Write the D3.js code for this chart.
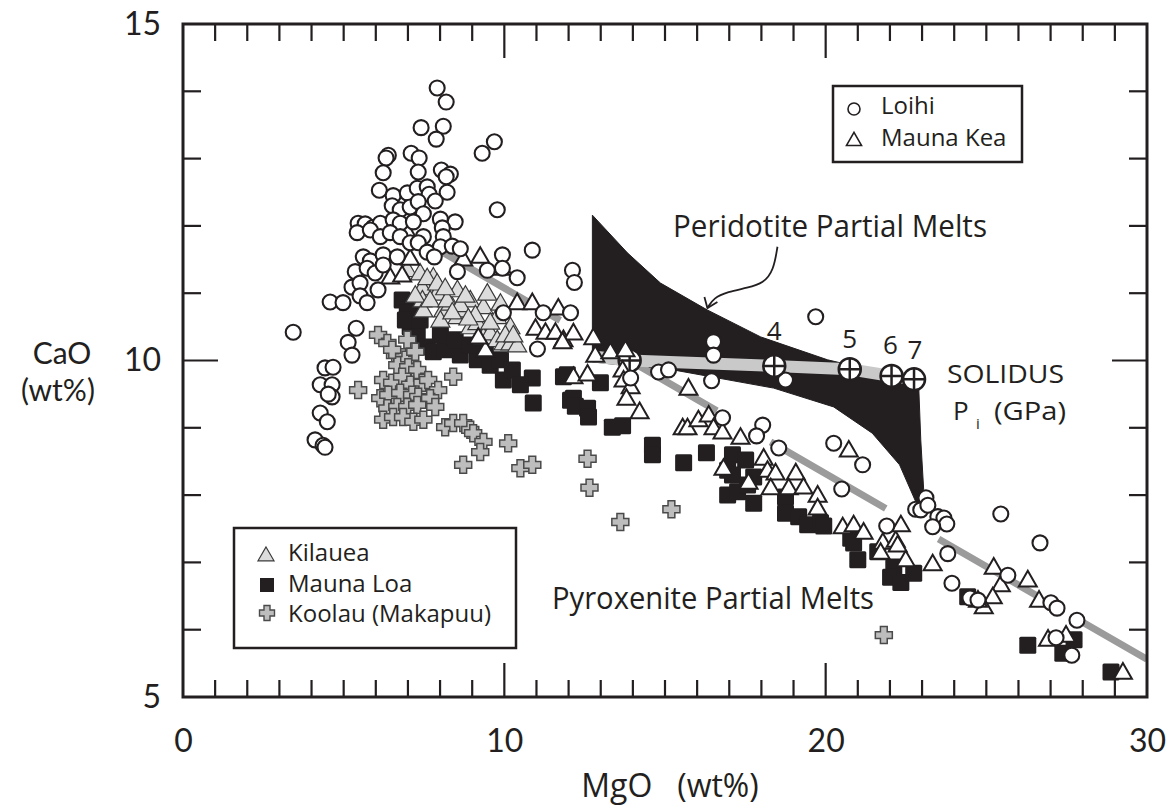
<!DOCTYPE html>
<html>
<head>
<meta charset="utf-8">
<script src="https://cdn.jsdelivr.net/npm/d3@7"></script>
<style>
  html, body { margin: 0; padding: 0; background: #fff; }
  svg { display: block; }
  text { fill: #231f20; }
</style>
</head>
<body>
<div id="app"></div>
<script>
// MgO / CaO (wt%)
const loihi = [
  [7.91,14.05],[8.19,13.84],[7.41,13.46],[8.10,13.48],[7.88,13.29],[9.69,13.25],[9.31,13.08],[6.39,13.05],
  [6.32,13.01],[7.10,13.08],[7.35,13.01],[6.23,12.79],[7.32,12.80],[8.04,12.83],[8.32,12.77],[8.19,12.73],
  [6.11,12.53],[6.54,12.45],[6.98,12.49],[7.29,12.56],[7.60,12.58],[8.22,12.50],[7.66,12.47],[7.85,12.37],
  [6.51,12.30],[6.76,12.24],[7.07,12.28],[7.32,12.36],[9.78,12.24],[7.48,12.18],[5.45,12.04],[5.67,12.03],
  [5.92,11.98],[6.14,12.04],[6.54,12.09],[6.76,12.04],[7.17,12.06],[8.01,12.10],[8.47,12.06],[5.42,11.90],
  [5.83,11.94],[6.14,11.84],[6.45,11.90],[6.76,11.84],[7.48,11.84],[8.07,11.97],[8.10,11.84],[7.07,11.75],
  [7.32,11.75],[8.01,11.69],[8.38,11.70],[8.63,11.66],[5.61,11.54],[5.83,11.48],[6.23,11.57],[6.67,11.54],
  [7.60,11.61],[7.82,11.54],[5.36,11.32],[5.73,11.37],[5.98,11.30],[6.23,11.42],[8.54,11.32],[9.94,11.57],
  [9.47,11.34],[9.94,11.37],[10.40,11.23],[10.87,11.64],[12.12,11.34],[12.18,11.16],[3.43,10.42],[4.58,10.87],
  [4.98,10.86],[5.26,11.09],[5.51,11.15],[5.51,10.96],[5.73,10.86],[6.07,11.05],[5.39,10.48],[5.14,10.27],
  [5.26,10.08],[4.42,9.89],[4.67,9.90],[4.27,9.64],[4.64,9.64],[4.64,9.46],[4.52,9.50],[4.27,9.22],
  [4.49,9.09],[4.11,8.82],[4.36,8.74],[4.42,8.71],[9.97,10.71],[11.03,10.17],[11.21,10.71],[12.06,10.71],
  [16.51,10.28],[16.51,10.08],[16.45,9.70],[19.69,10.65],[14.80,9.83],[15.11,9.86],[13.93,9.74],[18.75,9.71],
  [16.79,9.15],[18.04,9.04],[17.85,8.88],[18.54,8.70],[20.25,8.77],[21.15,8.45],[20.50,8.09],[23.12,7.96],
  [22.80,7.79],[22.96,7.78],[23.18,7.85],[23.49,7.68],[23.68,7.66],[23.77,7.57],[23.33,7.53],[25.45,7.72],
  [26.67,7.29],[23.80,7.13],[23.93,6.69],[25.67,6.81],[24.49,6.47],[24.74,6.44],[27.01,6.40],[27.20,6.32],
  [27.82,6.14],[27.17,5.88],[27.66,5.62],[21.90,7.54]
];

const maunaKea = [
  [6.45,11.24],[6.82,11.27],[6.95,11.94],[7.07,11.52],[9.94,11.37],[8.72,11.51],[9.25,11.55],[10.40,10.86],
  [10.87,10.86],[11.68,10.78],[10.97,10.48],[11.28,10.42],[11.59,10.42],[11.84,10.31],[9.41,10.16],[9.19,10.35],
  [12.15,10.41],[12.77,10.34],[11.81,10.28],[12.83,10.08],[13.30,10.13],[13.77,10.16],[12.15,9.76],[12.59,9.80],
  [13.68,9.86],[13.71,9.71],[13.93,9.61],[13.80,9.44],[14.21,9.24],[15.73,9.59],[15.55,9.00],[15.70,9.00],
  [16.04,9.12],[16.36,9.19],[16.51,9.00],[16.79,8.94],[17.35,8.86],[16.82,8.40],[17.60,8.19],[18.07,8.55],
  [18.19,8.37],[18.44,8.33],[19.07,8.33],[18.29,8.11],[18.85,8.11],[19.31,8.12],[19.75,8.00],[19.75,7.81],
  [20.53,7.53],[20.87,7.56],[21.18,7.45],[20.72,8.67],[21.78,7.30],[22.18,7.33],[22.34,7.56],[22.24,7.26],
  [21.71,7.15],[22.49,7.04],[23.33,6.98],[25.23,6.93],[25.45,6.67],[25.20,6.49],[24.92,6.34],[24.74,6.44],
  [26.29,6.74],[26.64,6.44],[26.92,5.86],[27.48,5.92],[29.25,5.37]
];

const kilauea = [
  [6.98,11.35],[7.38,11.30],[7.79,11.24],[7.54,11.09],[7.91,11.00],[7.45,11.08],[7.45,10.90],[7.60,11.23],
  [7.91,11.15],[8.10,10.75],[8.32,10.85],[8.54,10.65],[8.72,10.75],[8.94,10.50],[9.16,10.56],[9.35,10.35],
  [9.56,10.41],[9.78,10.31],[9.97,10.26],[10.19,10.26],[10.40,10.23],[8.54,11.05],[8.94,10.90],[9.35,10.80],
  [9.78,10.65],[10.19,10.50],[7.48,10.75],[8.01,10.60],[9.47,11.00],[9.88,10.85],[7.23,10.97],[7.69,10.90],
  [8.22,10.90],[8.63,10.83],[9.10,10.68],[9.56,10.57],[10.03,10.38],[8.16,11.08],[8.79,10.97],[10.28,10.38],
  [8.38,10.72],[8.88,10.63]
];

const maunaLoa = [
  [6.82,10.90],[7.17,10.79],[6.98,10.71],[7.07,10.50],[7.29,10.38],[7.60,10.20],[7.79,10.13],[8.16,10.16],
  [8.63,10.08],[9.16,10.01],[9.56,9.93],[9.97,9.71],[10.90,9.37],[10.87,9.74],[11.84,9.76],[12.06,9.41],
  [6.92,10.60],[7.38,10.60],[8.01,10.38],[8.47,10.31],[8.94,10.23],[9.41,10.16],[9.88,10.01],[10.25,9.86],
  [10.50,9.64],[11.96,9.79],[12.99,9.67],[12.15,9.44],[12.21,9.32],[12.59,9.29],[12.62,9.16],[13.36,9.01],
  [13.68,9.03],[14.61,8.74],[14.61,8.60],[15.58,8.48],[16.29,8.63],[17.10,8.60],[17.51,8.52],[16.95,8.37],
  [17.10,8.30],[16.95,8.00],[17.26,8.05],[17.76,7.88],[17.57,8.15],[17.76,8.27],[18.75,7.97],[18.75,7.73],
  [19.16,7.68],[19.44,7.56],[19.84,7.59],[20.78,7.36],[19.94,7.54],[20.87,7.29],[21.00,7.04],[21.62,7.16],
  [22.12,6.93],[22.02,6.78],[22.34,6.70],[22.74,6.84],[24.42,6.49],[26.29,5.77],[27.38,5.65],[27.73,5.85],
  [28.88,5.37]
];

const koolau = [
  [6.07,10.38],[6.36,10.26],[6.98,10.31],[6.60,10.08],[6.82,10.05],[6.92,10.01],[6.67,9.93],[7.01,9.90],
  [7.29,9.86],[6.23,9.71],[6.51,9.67],[6.82,9.76],[7.07,9.64],[7.45,9.67],[7.63,9.71],[5.45,9.56],
  [6.14,9.44],[6.39,9.49],[6.76,9.52],[7.13,9.49],[7.32,9.46],[7.94,9.56],[7.69,9.44],[6.36,9.29],
  [6.67,9.31],[6.98,9.31],[7.29,9.34],[7.85,9.31],[6.23,9.12],[6.54,9.16],[6.85,9.16],[7.17,9.09],
  [7.48,9.12],[8.41,9.76],[8.16,9.01],[8.41,9.07],[8.72,9.07],[8.94,8.97],[9.03,8.92],[9.35,8.79],
  [9.25,8.64],[10.12,8.77],[8.72,8.45],[10.50,8.40],[10.87,8.45],[12.59,8.54],[12.65,8.11],[13.61,7.60],
  [15.20,7.79],[21.81,5.92],[6.51,10.16],[7.23,10.13]
];

// peridotite partial melt field (outline, MgO/CaO)
const peridotiteField = [
  [12.74,12.16],[13.83,11.60],[14.86,11.15],[16.32,10.75],[17.98,10.35],[20.06,10.01],[21.40,9.86],[22.77,9.77],
  [22.90,9.56],[22.96,8.82],[23.05,8.08],[22.85,7.85],[22.30,8.45],[21.45,8.92],[20.25,9.31],[18.38,9.59],
  [15.26,9.86],[14.24,9.90],[12.74,9.98]
];

// solidus: pressure (GPa), MgO, CaO
const solidusP = ['3', '4', '5', '6', '7'];
const solidusMgO = [13.9, 18.4, 20.75, 22.05, 22.75];
const solidusCaO = [10.0, 9.92, 9.87, 9.77, 9.72];
const solidusStart = [12.75, 10.06];

// pyroxenite trend line ends
const pyroxTrend = [[8.1, 11.6], [30.0, 5.56]];

// arrow from label to field
const arrowPath = [[18.50,11.69],[18.38,11.34],[18.07,11.15],[17.57,11.08],[16.95,11.02],[16.51,10.93],[16.32,10.78]];

const xTicks = d3.range(0, 31, 1);
const xLabels = [0, 10, 20, 30];
const yTicks = d3.range(5, 16, 1);
const yLabels = [5, 10, 15];

const width = 1168, height = 809;
const ink = '#231f20';

const x = d3.scaleLinear().domain([0, 30]).range([183, 1147]);
const y = d3.scaleLinear().domain([5, 15]).range([697, 24]);

const svg = d3.create('svg').attr('width', width).attr('height', height)
  .attr('viewBox', [0, 0, width, height]);
svg.append('rect').attr('width', width).attr('height', height).attr('fill', '#fff');

const plot = svg.append('g');
plot.append('clipPath').attr('id', 'clip')
  .append('rect').attr('x', x(0)).attr('y', y(15)).attr('width', x(30) - x(0)).attr('height', y(5) - y(15));

const line = d3.line().x(d => x(d[0])).y(d => y(d[1]));

// peridotite field
plot.append('path').datum(peridotiteField)
  .attr('d', d => line(d) + 'Z')
  .attr('fill', ink).attr('stroke', ink).attr('stroke-width', 1);

// dashed pyroxenite trend
plot.append('path').datum(pyroxTrend)
  .attr('d', line)
  .attr('clip-path', 'url(#clip)')
  .attr('stroke', '#9b9b9b').attr('stroke-width', 7).attr('fill', 'none')
  .attr('stroke-dasharray', '135,90,91,62,133,61,118,46,300');

// solidus band
const solidus = solidusMgO.map((m, i) => [m, solidusCaO[i]]);
plot.append('path').datum([solidusStart].concat(solidus))
  .attr('d', line)
  .attr('stroke', '#c9c9c9').attr('stroke-width', 12).attr('fill', 'none');

// symbols
const triPath = (s) => {
  const h = s * Math.sqrt(3) / 2;
  return `M0,${-h * 0.58}L${s / 2},${h * 0.42}L${-s / 2},${h * 0.42}Z`;
};
const plusPath = (a, b) =>
  `M${-b},${-a}H${b}V${-b}H${a}V${b}H${b}V${a}H${-b}V${b}H${-a}V${-b}H${-b}Z`;

function solidusMarker(g, i) {
  const m = g.append('g').attr('transform', `translate(${x(solidusMgO[i])},${y(solidusCaO[i])})`);
  m.append('circle').attr('r', 11).attr('fill', '#fff').attr('stroke', ink).attr('stroke-width', 2.5);
  m.append('path').attr('d', 'M-11,0H11M0,-11V11').attr('stroke', ink).attr('stroke-width', 2.5);
}

// first solidus marker sits under the data
solidusMarker(plot, 0);

plot.append('g').selectAll('rect').data(maunaLoa).join('rect')
  .attr('x', d => x(d[0]) - 8.5).attr('y', d => y(d[1]) - 8.5)
  .attr('width', 17).attr('height', 17).attr('rx', 1.5)
  .attr('fill', ink);

plot.append('g').selectAll('path').data(kilauea).join('path')
  .attr('transform', d => `translate(${x(d[0])},${y(d[1])})`)
  .attr('d', triPath(19))
  .attr('fill', '#dcdcdc').attr('stroke', '#3a3a3a').attr('stroke-width', 1.2);

plot.append('g').selectAll('path').data(koolau).join('path')
  .attr('transform', d => `translate(${x(d[0])},${y(d[1])})`)
  .attr('d', plusPath(8.5, 3.4))
  .attr('fill', '#bdbdbd').attr('stroke', '#4a4a4a').attr('stroke-width', 1.5);

plot.append('g').selectAll('path').data(maunaKea).join('path')
  .attr('transform', d => `translate(${x(d[0])},${y(d[1])})`)
  .attr('d', triPath(18))
  .attr('fill', '#fff').attr('stroke', ink).attr('stroke-width', 2);

plot.append('g').selectAll('circle').data(loihi).join('circle')
  .attr('cx', d => x(d[0])).attr('cy', d => y(d[1])).attr('r', 7.5)
  .attr('fill', '#fff').attr('stroke', ink).attr('stroke-width', 2.1);

for (let i = 1; i < solidusP.length; i++) solidusMarker(plot, i);

// frame
svg.append('rect').attr('x', x(0)).attr('y', y(15))
  .attr('width', x(30) - x(0)).attr('height', y(5) - y(15))
  .attr('fill', 'none').attr('stroke', ink).attr('stroke-width', 3);

// ticks (inward)
const tickG = svg.append('g').attr('stroke', ink).attr('stroke-width', 2.2);
const isMajorX = v => v === 10 || v === 20;
const isMajorY = v => v === 10;
xTicks.filter(v => v > 0 && v < 30).forEach(v => {
  const len = isMajorX(v) ? 34 : 17;
  tickG.append('line').attr('x1', x(v)).attr('x2', x(v)).attr('y1', y(5)).attr('y2', y(5) - len);
  tickG.append('line').attr('x1', x(v)).attr('x2', x(v)).attr('y1', y(15)).attr('y2', y(15) + len);
});
yTicks.filter(v => v > 5 && v < 15).forEach(v => {
  const len = isMajorY(v) ? 35 : 18;
  tickG.append('line').attr('x1', x(0)).attr('x2', x(0) + len).attr('y1', y(v)).attr('y2', y(v));
  tickG.append('line').attr('x1', x(30)).attr('x2', x(30) - len).attr('y1', y(v)).attr('y2', y(v));
});

// tick labels
svg.append('g').call(d3.axisBottom(x).tickValues(xLabels).tickSize(0).tickPadding(32))
  .attr('transform', `translate(0,${y(5)})`)
  .call(g => g.select('.domain').remove())
  .call(g => g.selectAll('text').attr('fill', ink)
    .style('font', '32px Lato, "Open Sans", sans-serif'));

svg.append('g').call(d3.axisLeft(y).tickValues(yLabels).tickSize(0).tickPadding(22))
  .attr('transform', `translate(${x(0)},0)`)
  .call(g => g.select('.domain').remove())
  .call(g => g.selectAll('text').attr('fill', ink)
    .style('font', '32px Lato, "Open Sans", sans-serif'));

// axis titles
svg.append('text').attr('x', 62).attr('y', 364).attr('text-anchor', 'middle')
  .style('font', '30px Lato, sans-serif').text('CaO');
svg.append('text').attr('x', 58).attr('y', 401).attr('text-anchor', 'middle')
  .style('font', '30px Lato, sans-serif').text('(wt%)');
svg.append('text').attr('x', 670).attr('y', 797).attr('text-anchor', 'middle')
  .style('font', '32px "Open Sans", sans-serif')
  .attr('xml:space', 'preserve').text('MgO   (wt%)');

// pressure labels on the solidus
const pOffsets = [[6, -22], [0, -26], [0, -21], [-1, -22], [1, -20]];
const pLabels = svg.append('g').attr('class', 'plabels');
solidusP.forEach((p, i) => {
  pLabels.append('text')
    .attr('x', x(solidusMgO[i]) + pOffsets[i][0])
    .attr('y', y(solidusCaO[i]) + pOffsets[i][1])
    .attr('text-anchor', 'middle')
    .style('font-family', '"Open Sans", sans-serif')
    .style('font-size', '26px')
    .text(p);
});

// annotations
const note = (tx, ty, str, size, len) => {
  const t = svg.append('text').attr('x', tx).attr('y', ty)
    .style('font', `${size}px "Open Sans", sans-serif`).text(str);
  if (len) t.attr('textLength', len).attr('lengthAdjust', 'spacingAndGlyphs');
  return t;
};
note(673, 237, 'Peridotite Partial Melts', 31, 314);
note(552, 609, 'Pyroxenite Partial Melts', 31, 322);
note(947, 383, 'SOLIDUS', 26, 117);
note(953, 420, 'P', 26);
note(976, 429, 'i', 15);
note(994, 420, '(GPa)', 26, 72);

// arrow
svg.append('path').datum(arrowPath)
  .attr('d', d3.line().x(d => x(d[0])).y(d => y(d[1])).curve(d3.curveBasis))
  .attr('fill', 'none').attr('stroke', ink).attr('stroke-width', 1.8);
const tip = arrowPath[arrowPath.length - 1];
svg.append('path')
  .attr('d', `M${x(tip[0]) - 3},${y(tip[1]) - 11}L${x(tip[0])},${y(tip[1])}L${x(tip[0]) + 10},${y(tip[1]) - 6}`)
  .attr('fill', 'none').attr('stroke', ink).attr('stroke-width', 1.8);

// legends
function legend(bx, by, bw, bh, items) {
  const g = svg.append('g');
  g.append('rect').attr('x', bx).attr('y', by).attr('width', bw).attr('height', bh)
    .attr('fill', '#fff').attr('stroke', ink).attr('stroke-width', 2.5);
  items.forEach(it => {
    const s = g.append('g').attr('transform', `translate(${it.sx},${it.sy})`);
    it.draw(s);
    g.append('text').attr('x', it.tx).attr('y', it.ty)
      .style('font', '24px "Open Sans", sans-serif').text(it.label);
  });
}

legend(833, 86, 189, 76, [
  { sx: 854, sy: 109, tx: 881, ty: 114, label: 'Loihi',
    draw: s => s.append('circle').attr('r', 6).attr('fill', '#fff').attr('stroke', ink).attr('stroke-width', 1.6) },
  { sx: 854, sy: 140, tx: 881, ty: 146, label: 'Mauna Kea',
    draw: s => s.append('path').attr('d', triPath(15)).attr('fill', '#fff').attr('stroke', ink).attr('stroke-width', 1.6) }
]);

legend(234, 528, 282, 120, [
  { sx: 266, sy: 555, tx: 288, ty: 561, label: 'Kilauea',
    draw: s => s.append('path').attr('d', triPath(16)).attr('fill', '#dcdcdc').attr('stroke', '#3a3a3a').attr('stroke-width', 1.2) },
  { sx: 267, sy: 585, tx: 288, ty: 592, label: 'Mauna Loa',
    draw: s => s.append('rect').attr('x', -7).attr('y', -7).attr('width', 14).attr('height', 14).attr('fill', ink) },
  { sx: 267, sy: 613, tx: 288, ty: 622, label: 'Koolau (Makapuu)',
    draw: s => s.append('path').attr('d', plusPath(7.5, 3)).attr('fill', '#bdbdbd').attr('stroke', '#4a4a4a').attr('stroke-width', 1.4) }
]);

document.getElementById('app').append(svg.node());
</script>
</body>
</html>
